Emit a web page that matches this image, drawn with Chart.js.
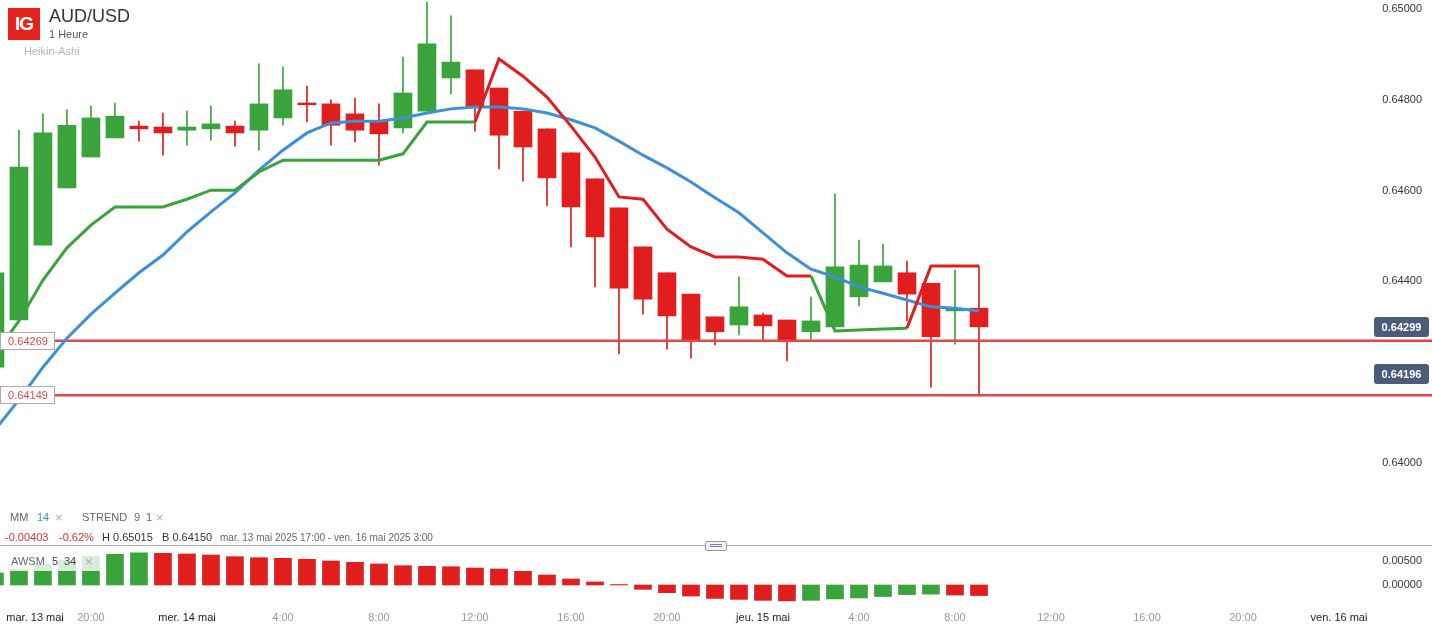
<!DOCTYPE html>
<html lang="fr">
<head>
<meta charset="UTF-8">
<title>AUD/USD - 1 Heure</title>
<script src="https://cdn.jsdelivr.net/npm/chart.js"></script>
<style>
  body { margin: 0; background: #fff; font-family: "Liberation Sans", Arial, sans-serif; }
  #wrap { position: relative; width: 1432px; height: 626px; overflow: hidden; }
  canvas { position: absolute; left: 0; }
  #main { top: 0; }
  #osc { top: 546px; }
  .t { position: absolute; white-space: nowrap; font-size: 11px; line-height: 1; }
  .logo { position: absolute; left: 8px; top: 8px; width: 32px; height: 32px; background: #e2231a;
          color: #fff; font-weight: bold; font-size: 19px; line-height: 32px; text-align: center; letter-spacing: -1px; }
  .sep { position: absolute; left: 0; top: 545px; width: 1432px; height: 1px; background: #aaa; }
  .handle { position: absolute; left: 705px; top: 541px; width: 20px; height: 8px; background: #f3f3f8;
            border: 1px solid #999; border-radius: 2px; }
  .handle i { position: absolute; left: 4px; width: 12px; height: 1px; background: #7a7aa0; }
  .awbox { position: absolute; left: 5px; top: 554px; width: 96px; height: 17px; background: rgba(255,255,255,0.8); }
</style>
</head>
<body>
<div id="wrap">
  <canvas id="main" width="1432" height="545"></canvas>
  <canvas id="osc" width="1432" height="80"></canvas>

  <div class="logo">IG</div>
  <div class="t" style="left:49px;top:7px;font-size:18px;color:#333;">AUD/USD</div>
  <div class="t" style="left:49px;top:29px;color:#555;">1 Heure</div>
  <div class="t" style="left:24px;top:46px;color:#b4b4bc;">Heikin-Ashi</div>

  <div class="t" style="left:10px;top:512px;color:#666;">MM</div>
  <div class="t" style="left:37px;top:512px;color:#3d8fd6;">14</div>
  <div class="t" style="left:55px;top:511px;color:#aaa;font-size:13px;">×</div>
  <div class="t" style="left:82px;top:512px;color:#666;">STREND</div>
  <div class="t" style="left:134px;top:512px;color:#666;">9</div>
  <div class="t" style="left:146px;top:512px;color:#666;">1</div>
  <div class="t" style="left:156px;top:511px;color:#aaa;font-size:13px;">×</div>

  <div class="t" style="left:5px;top:532px;color:#e03030;">-0.00403</div>
  <div class="t" style="left:59px;top:532px;color:#e03030;">-0.62%</div>
  <div class="t" style="left:102px;top:532px;color:#333;">H 0.65015</div>
  <div class="t" style="left:162px;top:532px;color:#333;">B 0.64150</div>
  <div class="t" style="left:220px;top:533px;color:#666;font-size:10px;">mar. 13 mai 2025 17:00 - ven. 16 mai 2025 3:00</div>

  <div class="sep"></div>
  <div class="handle"><i style="top:2px"></i><i style="top:4px"></i></div>

  <div class="awbox"></div>
  <div class="t" style="left:11px;top:556px;color:#666;">AWSM</div>
  <div class="t" style="left:52px;top:556px;color:#444;">5</div>
  <div class="t" style="left:64px;top:556px;color:#444;">34</div>
  <div class="t" style="left:85px;top:555px;color:#aaa;font-size:13px;">×</div>
</div>

<script>
// candles: hourly Heikin-Ashi, x = hours since mar. 13 mai 16:00
const open  = [0.64211, 0.64315, 0.64480, 0.64606, 0.64674, 0.64716, 0.64742, 0.64740, 0.64733, 0.64736,
               0.64742, 0.64733, 0.64760, 0.64793, 0.64791, 0.64769, 0.64753, 0.64738, 0.64775, 0.64848,
               0.64866, 0.64826, 0.64775, 0.64736, 0.64683, 0.64626, 0.64562, 0.64476, 0.64419, 0.64372,
               0.64322, 0.64304, 0.64326, 0.64315, 0.64289, 0.64300, 0.64366, 0.64399, 0.64419, 0.64396,
               0.64335, 0.64341];
const high  = [0.64419, 0.64733, 0.64769, 0.64778, 0.64786, 0.64793, 0.64753, 0.64771, 0.64775, 0.64786,
               0.64753, 0.64879, 0.64872, 0.64830, 0.64800, 0.64804, 0.64791, 0.64894, 0.65015, 0.64985,
               0.64866, 0.64826, 0.64775, 0.64736, 0.64683, 0.64626, 0.64562, 0.64476, 0.64419, 0.64372,
               0.64322, 0.64410, 0.64330, 0.64315, 0.64366, 0.64593, 0.64491, 0.64482, 0.64445, 0.64396,
               0.64425, 0.64434];
const low   = [0.64211, 0.64315, 0.64480, 0.64606, 0.64674, 0.64716, 0.64709, 0.64678, 0.64700, 0.64711,
               0.64698, 0.64689, 0.64744, 0.64751, 0.64700, 0.64707, 0.64656, 0.64727, 0.64775, 0.64813,
               0.64731, 0.64648, 0.64621, 0.64566, 0.64476, 0.64388, 0.64240, 0.64328, 0.64251, 0.64231,
               0.64260, 0.64282, 0.64267, 0.64225, 0.64273, 0.64300, 0.64346, 0.64399, 0.64313, 0.64167,
               0.64262, 0.64150];
const close = [0.64419, 0.64652, 0.64727, 0.64744, 0.64760, 0.64764, 0.64736, 0.64727, 0.64740, 0.64747,
               0.64727, 0.64791, 0.64822, 0.64789, 0.64744, 0.64733, 0.64725, 0.64815, 0.64923, 0.64883,
               0.64784, 0.64722, 0.64696, 0.64628, 0.64564, 0.64498, 0.64385, 0.64361, 0.64324, 0.64269,
               0.64289, 0.64344, 0.64302, 0.64267, 0.64313, 0.64432, 0.64436, 0.64434, 0.64372, 0.64278,
               0.64339, 0.64300];

// MM 14
const ma14 = [0.64073, 0.64139, 0.64211, 0.64275, 0.64328, 0.64374, 0.64419, 0.64458, 0.64509, 0.64553,
              0.64595, 0.64645, 0.64689, 0.64727, 0.64749, 0.64753, 0.64753, 0.64760, 0.64771, 0.64780,
              0.64784, 0.64784, 0.64780, 0.64771, 0.64756, 0.64738, 0.64709, 0.64678, 0.64650, 0.64619,
              0.64584, 0.64551, 0.64507, 0.64463, 0.64427, 0.64410, 0.64388, 0.64374, 0.64359, 0.64344,
              0.64341, 0.64335];

// STREND 9 1 (value + direction, 1 = up/green, 0 = down/red)
const strend = [0.64240, 0.64313, 0.64403, 0.64474, 0.64524, 0.64564, 0.64564, 0.64564, 0.64581, 0.64601,
                0.64601, 0.64641, 0.64667, 0.64667, 0.64667, 0.64667, 0.64667, 0.64681, 0.64751, 0.64751,
                0.64751, 0.64890, 0.64852, 0.64806, 0.64742, 0.64674, 0.64586, 0.64581, 0.64515, 0.64476,
                0.64454, 0.64454, 0.64449, 0.64412, 0.64412, 0.64291, 0.64293, 0.64295, 0.64297, 0.64434,
                0.64434, 0.64434];
const strendUp = [1,1,1,1,1,1,1,1,1,1, 1,1,1,1,1,1,1,1,1,1, 1,0,0,0,0,0,0,0,0,0,
                  0,0,0,0,0,1,1,1,1,0, 0,0];

// AWSM 5 34
const awsm = [0.0025, 0.0033, 0.0043, 0.0052, 0.0060, 0.0064, 0.0067, 0.0066, 0.00646, 0.00625,
              0.0059, 0.00569, 0.00556, 0.00535, 0.0050, 0.00473, 0.00438, 0.00402, 0.0039, 0.00381,
              0.00354, 0.00333, 0.00285, 0.00208, 0.00125, 0.00063, 0.0001, -0.0009, -0.0016, -0.0023,
              -0.0028, -0.0030, -0.0032, -0.0033, -0.0032, -0.0029, -0.0027, -0.0024, -0.0020, -0.0019,
              -0.0021, -0.0022];

// levels and price tags
const levels = [0.64269, 0.64149];
const priceTags = [0.64299, 0.64196];

// axes
const xTickPos  = [1.67, 4, 8, 12, 16, 20, 24, 28, 32, 36, 40, 44, 48, 52, 56];
const xTickText = ['mar. 13 mai', '20:00', 'mer. 14 mai', '4:00', '8:00', '12:00', '16:00', '20:00',
                   'jeu. 15 mai', '4:00', '8:00', '12:00', '16:00', '20:00', 'ven. 16 mai'];
const yTicks    = [0.65, 0.648, 0.646, 0.644, 0.640];
const oscTicks  = [0, 0.005];

const X_MIN = 0.21, X_MAX = 59.875;
const Y_MIN = 0.638194, Y_MAX = 0.650198;
const O_MIN = -0.00396, O_MAX = 0.008125;

const GREEN = '#3ba33c', RED = '#e01e1e', BLUE = '#3d8fd6';
const FONT = '"Liberation Sans", Arial, sans-serif';
Chart.defaults.font.family = FONT;
Chart.defaults.animation = false;

const candleColor = open.map((o, i) => close[i] >= o ? GREEN : RED);
const oscColor = awsm.map((v, i) => (i === 0 || v > awsm[i - 1]) ? GREEN : RED);

function rightAxis(min, max, ticks) {
  return {
    position: 'right', min: min, max: max,
    grid: { display: false, drawTicks: false }, border: { display: false },
    ticks: { mirror: true, padding: -10, color: '#333', font: { size: 11 }, callback: v => v.toFixed(5) },
    afterBuildTicks: s => { s.ticks = ticks.map(v => ({ value: v })); },
    afterFit: s => { s.width = 0; s.paddingTop = 0; s.paddingBottom = 0; }
  };
}

// boxes for the levels (left) and current prices (right)
const tagsPlugin = {
  id: 'tags',
  afterDatasetsDraw(chart) {
    const ctx = chart.ctx, y = chart.scales.y;
    ctx.save();
    ctx.font = '11px ' + FONT;
    ctx.textAlign = 'center';
    ctx.textBaseline = 'middle';
    levels.forEach(v => {
      const py = Math.round(y.getPixelForValue(v));
      ctx.fillStyle = '#fff';
      ctx.fillRect(0, py - 9, 55, 18);
      ctx.strokeStyle = '#aaa';
      ctx.lineWidth = 1;
      ctx.strokeRect(0.5, py - 8.5, 54, 17);
      ctx.fillStyle = '#e04848';
      ctx.fillText(v.toFixed(5), 28, py + 1);
    });
    ctx.font = 'bold 11px ' + FONT;
    priceTags.forEach(v => {
      const py = Math.round(y.getPixelForValue(v));
      ctx.fillStyle = '#4b5b79';
      ctx.beginPath();
      ctx.roundRect(1374, py - 10, 55, 20, 3);
      ctx.fill();
      ctx.fillStyle = '#fff';
      ctx.fillText(v.toFixed(5), 1401.5, py + 1);
    });
    ctx.restore();
  }
};

new Chart(document.getElementById('main'), {
  type: 'bar',
  data: {
    datasets: [
      {
        type: 'line', data: ma14.map((v, i) => ({ x: i, y: v })),
        borderColor: BLUE, borderWidth: 3, pointRadius: 0, order: 1
      },
      {
        type: 'line', data: strend.map((v, i) => ({ x: i, y: v })),
        borderColor: GREEN, borderWidth: 3, pointRadius: 0, order: 0,
        segment: { borderColor: c => strendUp[c.p1DataIndex] ? GREEN : RED }
      },
      ...levels.map(v => ({
        type: 'line', data: [{ x: X_MIN, y: v }, { x: X_MAX, y: v }],
        borderColor: '#e04848', borderWidth: 2.5, pointRadius: 0, order: 2
      })),
      {
        data: open.map((o, i) => ({ x: i, y: [low[i], high[i]] })),
        backgroundColor: candleColor, barThickness: 1, grouped: false, order: 4
      },
      {
        data: open.map((o, i) => ({ x: i, y: [o, close[i]] })),
        backgroundColor: candleColor, barThickness: 18, grouped: false, order: 3
      }
    ]
  },
  options: {
    responsive: false,
    layout: { padding: 0 },
    plugins: { legend: { display: false }, tooltip: { enabled: false } },
    scales: {
      x: { type: 'linear', min: X_MIN, max: X_MAX, offset: false, display: false },
      y: rightAxis(Y_MIN, Y_MAX, yTicks)
    }
  },
  plugins: [tagsPlugin]
});

new Chart(document.getElementById('osc'), {
  type: 'bar',
  data: {
    datasets: [{
      data: awsm.map((v, i) => ({ x: i, y: v })),
      backgroundColor: oscColor, barThickness: 17
    }]
  },
  options: {
    responsive: false,
    layout: { padding: 0 },
    plugins: { legend: { display: false }, tooltip: { enabled: false } },
    scales: {
      x: {
        type: 'linear', min: X_MIN, max: X_MAX, offset: false,
        grid: { display: false, drawTicks: false }, border: { display: false },
        ticks: {
          autoSkip: false, maxRotation: 0, padding: 7, font: { size: 11 },
          color: c => /mai/.test(xTickText[c.index]) ? '#222' : '#999',
          callback: (v, i) => xTickText[i]
        },
        afterBuildTicks: s => { s.ticks = xTickPos.map(v => ({ value: v })); },
        afterFit: s => { s.height = 22; s.paddingLeft = 0; s.paddingRight = 0; }
      },
      y: rightAxis(O_MIN, O_MAX, oscTicks)
    }
  }
});
</script>
</body>
</html>
